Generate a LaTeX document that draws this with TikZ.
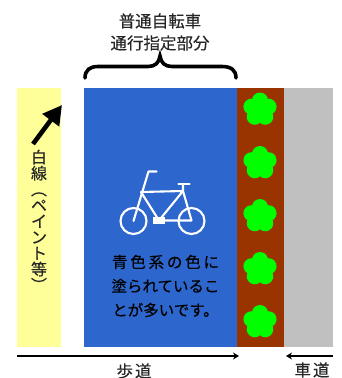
\documentclass[tikz,border=0pt]{standalone}
\usepackage{fontspec}
\setmainfont[FakeBold=0.25]{Noto Sans CJK JP}
\newfontfamily\jpwide[LetterSpace=12, FakeBold=0.25]{Noto Sans CJK JP}
\definecolor{LaneBlue}{RGB}{45, 102, 204}
\definecolor{LaneYellow}{RGB}{255, 255, 153}
\definecolor{LaneBrown}{RGB}{153, 51, 0}
\definecolor{LaneGrey}{RGB}{192, 192, 192}
\definecolor{TreeGreen}{RGB}{0, 255, 0}
\usetikzlibrary{arrows.meta, positioning}

\begin{document}
\begin{tikzpicture}[
  x=1pt, y=-1pt,
  node distance=0pt and 0pt,
  lane/.style={
    rectangle, inner sep=0pt, outer sep=0pt,
    minimum height=259pt
  },
  label/.style={font=\fontsize{16.5}{22}\selectfont, align=center, inner sep=0pt, text=black!85},
  arrow/.style={-{Stealth[length=6pt, width=7pt]}, line width=1.5pt},
  bike/.style={draw=white, line width=2.1pt, line join=round, line cap=round},
]
\useasboundingbox (0,0) rectangle (342,378);

% lanes
\node[lane, fill=LaneYellow, minimum width=44pt, anchor=north west] (line) at (17,88) {};
\node[lane, fill=LaneBlue, minimum width=153pt, anchor=north west] (bikelane) at (84,88) {};
\node[lane, fill=LaneBrown, minimum width=47pt, right=of bikelane] (planting) {};
\node[lane, fill=LaneGrey, minimum width=49pt, right=of planting] (road) {};

% trees
\foreach \treey in {109.5,163,216,269,322} {
  \foreach \petal in {90,162,234,306,18} {
    \fill[TreeGreen] (260,\treey) ++(\petal:9pt) circle (8pt);
  }
  \fill[TreeGreen] (260,\treey) circle (8.5pt);
}

% bicycle
\draw[bike] (133.5,221) circle (13pt);
\draw[bike] (191.5,221) circle (13pt);
\draw[bike] (156.5,171.5) -- (148.5,171.5) -- (133.5,221);
\draw[bike] (141,192) -- (183,191) -- (159,220.5) -- (141,192);
\draw[bike] (178.5,184) -- (189.5,184);
\draw[bike] (183,184) -- (183,191) -- (191.5,220.5) -- (159,220.5);
\fill[white] (153,217) rectangle (165,224);

% brace
\coordinate (bracel) at (85,78);
\coordinate (bracer) at (236,78);
\coordinate (bracet) at (160,56);
\draw[line width=3.6pt, line cap=round] (bracel) .. controls (85,70) and (90,66.5) .. (98,66.5)
  -- (148,66.5) .. controls (155,66.5) and (159,63) .. (bracet)
  .. controls (161,63) and (165,66.5) .. (172,66.5)
  -- (222,66.5) .. controls (231,66.5) and (236,70) .. (bracer);

% texts
\node[label] (bikepart) at (160,32) {普通自転車\\通行指定部分};
\node[label, font=\fontsize{16}{16}\selectfont] (linetext) at (39,220.5)
  {白\\線\\︵\\ペ\\イ\\ン\\ト\\等\\︶};
\node[label, font=\fontsize{15.5}{24}\selectfont, text=black] (bluetext) at (165.5,286)
  {\makebox[107pt][s]{青\hfil 色\hfil 系\hfil の\hfil 色\hfil に}\\塗られているこ\\とが多いです。};
\node[label, font=\fontsize{16.5}{20}\selectfont\jpwide] (walktext) at (134,371) {歩道};
\node[label, font=\fontsize{16.5}{20}\selectfont\jpwide] (roadtext) at (312,370) {車道};

% arrows
\coordinate (whitetail) at (33,144);
\coordinate (whitehead) at (62,105);
\draw[-{Triangle[length=19pt, width=20pt]}, line width=4.6pt] (whitetail) -- (whitehead);
\coordinate (walkl) at (17,356);
\coordinate (walkr) at (239,356);
\coordinate (roadr) at (333,356);
\coordinate (roadl) at (286,356);
\draw[arrow] (walkl) -- (walkr);
\draw[arrow] (roadr) -- (roadl);
\end{tikzpicture}
\end{document}
